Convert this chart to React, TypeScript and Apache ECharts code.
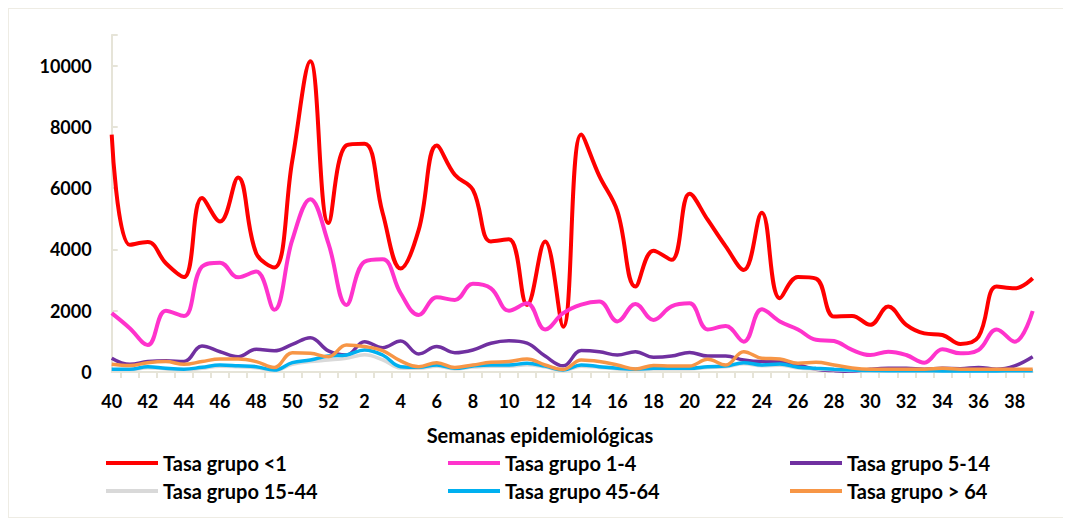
import React, { useEffect, useRef } from "react";
import * as echarts from "echarts";

// Epidemiological weeks: 40–52 of one year, then 1–39 of the next
const weeks: string[] = [
  "40", "41", "42", "43", "44", "45", "46", "47", "48", "49", "50", "51", "52",
  "1", "2", "3", "4", "5", "6", "7", "8", "9", "10", "11", "12", "13", "14", "15",
  "16", "17", "18", "19", "20", "21", "22", "23", "24", "25", "26", "27", "28",
  "29", "30", "31", "32", "33", "34", "35", "36", "37", "38", "39",
];

const seriesNames: string[] = [
  "Tasa grupo <1",
  "Tasa grupo 1-4",
  "Tasa grupo 5-14",
  "Tasa grupo 15-44",
  "Tasa grupo 45-64",
  "Tasa grupo > 64",
];

const grupoMenor1: number[] = [
  7750, 4150, 4240, 3550, 3100, 5680, 4910, 6350, 3880, 3410, 6900, 10140, 4860,
  7400, 7450, 5200, 3380, 4640, 7390, 6440, 5950, 4260, 4330, 2190, 4260, 1480,
  7750, 6400, 5250, 2790, 3960, 3660, 5820, 4970, 4100, 3330, 5200, 2410, 3100,
  3050, 1810, 1830, 1540, 2135, 1540, 1260, 1210, 915, 1150, 2790, 2730, 3060,
];

const grupo1a4: number[] = [
  1920, 1430, 880, 2000, 1830, 3440, 3570, 3090, 3280, 2030, 4310, 5640, 4200,
  2190, 3600, 3680, 2570, 1860, 2440, 2350, 2880, 2730, 2000, 2240, 1390, 1920,
  2200, 2300, 1650, 2220, 1700, 2140, 2240, 1390, 1500, 990, 2050, 1650, 1390,
  1050, 1010, 720, 555, 665, 555, 305, 740, 610, 720, 1390, 990, 1990,
];

const grupo5a14: number[] = [
  450, 250, 340, 370, 340, 850, 660, 500, 740, 690, 900, 1120, 690,
  555, 990, 795, 1010, 590, 830, 630, 720, 940, 1020, 940, 520, 200,
  700, 660, 555, 660, 480, 520, 640, 520, 520, 390, 340, 340, 230,
  90, 45, 25, 90, 120, 120, 90, 120, 110, 150, 90, 200, 500,
];

const grupo15a44: number[] = [
  70, 70, 140, 100, 70, 120, 190, 170, 140, 50, 250, 340, 390,
  450, 560, 400, 130, 120, 190, 100, 160, 190, 190, 240, 160, 50,
  190, 150, 100, 70, 100, 100, 100, 150, 170, 270, 200, 220, 130,
  100, 70, 50, 35, 30, 30, 30, 30, 30, 30, 30, 30, 30,
];

const grupo45a64: number[] = [
  90, 90, 175, 120, 90, 155, 230, 205, 175, 65, 305, 390, 520,
  555, 720, 555, 175, 155, 230, 120, 195, 230, 230, 285, 195, 65,
  230, 175, 120, 90, 120, 120, 120, 175, 195, 305, 230, 260, 155,
  120, 90, 65, 45, 40, 40, 40, 35, 35, 35, 35, 40, 40,
];

const grupoMayor64: number[] = [
  250, 210, 305, 340, 250, 340, 425, 425, 340, 150, 630, 610, 500,
  880, 830, 700, 360, 175, 305, 150, 230, 315, 340, 425, 230, 85,
  390, 340, 230, 100, 210, 195, 195, 415, 230, 665, 450, 425, 285,
  315, 230, 130, 90, 90, 90, 90, 120, 90, 90, 90, 90, 90,
];

const seriesData: number[][] = [
  grupoMenor1,
  grupo1a4,
  grupo5a14,
  grupo15a44,
  grupo45a64,
  grupoMayor64,
];

const seriesColors: string[] = [
  "#ff0000",
  "#ff33cc",
  "#7030a0",
  "#d9d9d9",
  "#00b0f0",
  "#f79646",
];

const lineWidths: number[] = [4, 4, 3.5, 3.5, 3.5, 3.5];

const axisTitle = "Semanas epidemiológicas";

const AXIS_COLOR = "#e6e4d8";
const FONT = "Lato, 'Noto Sans', sans-serif";

// legend placement: three columns, two rows
const legendCols = [97, 439, 781];
const legendRows = [444, 472];

export default function App() {
  const ref = useRef<HTMLDivElement>(null);

  useEffect(() => {
    if (!ref.current) return;
    const chart = echarts.init(ref.current, undefined, { renderer: "svg" });

    const gridLeft = 102.7;
    const gridRight = 38.3;
    const step = (1062 - gridLeft - gridRight) / (weeks.length - 1);

    const legends = seriesNames.map((name, i) => ({
      data: [name],
      left: legendCols[i % 3],
      top: legendRows[Math.floor(i / 3)],
      icon: "rect",
      itemWidth: 52,
      itemHeight: 4,
      itemGap: 0,
      padding: 0,
      selectedMode: false,
      textStyle: {
        fontFamily: FONT,
        fontWeight: "bold",
        fontSize: 20,
        lineHeight: 20,
        color: "#000",
      },
    }));

    chart.setOption({
      animation: false,
      backgroundColor: "#ffffff",
      legend: legends,
      grid: [
        { left: gridLeft, right: gridRight, top: 26, bottom: 145 },
        // tick marks sit between the weeks
        {
          left: gridLeft + step / 2,
          right: gridRight + step / 2,
          top: 26,
          bottom: 145,
        },
      ],
      xAxis: [
        {
          type: "category",
          gridIndex: 0,
          data: weeks,
          boundaryGap: false,
          axisLine: { show: true, lineStyle: { color: AXIS_COLOR, width: 2 } },
          axisTick: { show: false },
          axisLabel: {
            interval: 1,
            margin: 20,
            color: "#000",
            fontFamily: FONT,
            fontWeight: "bold",
            fontSize: 18,
          },
          splitLine: { show: false },
        },
        {
          type: "category",
          gridIndex: 1,
          data: weeks.slice(1),
          boundaryGap: false,
          axisLine: { show: false },
          axisTick: {
            show: true,
            length: 6,
            interval: 0,
            lineStyle: { color: AXIS_COLOR, width: 2 },
          },
          axisLabel: { show: false },
          splitLine: { show: false },
        },
      ],
      yAxis: [
        {
          type: "value",
          gridIndex: 0,
          min: 0,
          max: 11000,
          interval: 2000,
          axisLine: { show: true, lineStyle: { color: AXIS_COLOR, width: 2 } },
          axisTick: {
            show: true,
            inside: true,
            length: 6,
            lineStyle: { color: AXIS_COLOR, width: 2 },
          },
          axisLabel: {
            margin: 20,
            color: "#000",
            fontFamily: FONT,
            fontWeight: "bold",
            fontSize: 18,
            formatter: (v: number) => (v % 2000 === 0 ? String(v) : ""),
          },
          splitLine: { show: false },
        },
        {
          type: "value",
          gridIndex: 1,
          min: 0,
          max: 11000,
          show: false,
        },
      ],
      graphic: [
        {
          type: "text",
          x: 531,
          y: 426,
          style: {
            text: axisTitle,
            fontFamily: FONT,
            fontWeight: "bold",
            fontSize: 20,
            fill: "#000",
            align: "center",
            verticalAlign: "middle",
          },
        },
      ],
      series: seriesNames.map((name, i) => ({
        name,
        type: "line",
        xAxisIndex: 0,
        yAxisIndex: 0,
        data: seriesData[i],
        smooth: 0.4,
        symbol: "none",
        color: seriesColors[i],
        lineStyle: { color: seriesColors[i], width: lineWidths[i] },
      })),
    });

    return () => chart.dispose();
  }, []);

  return (
    <div
      style={{
        width: 1062,
        height: 508,
        borderTop: "1px solid #eeece4",
        borderLeft: "1px solid #eeece4",
        borderBottom: "1px solid #eeece4",
      }}
    >
      <div ref={ref} style={{ width: 1062, height: 508 }} />
    </div>
  );
}
